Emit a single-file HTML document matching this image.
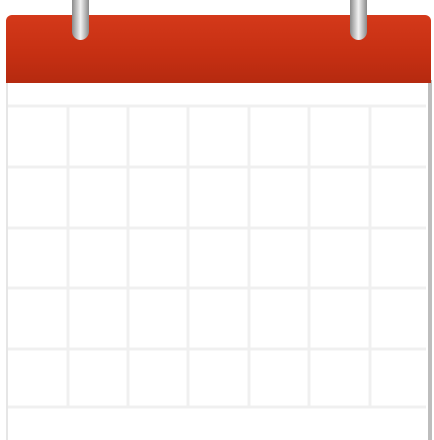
<!DOCTYPE html>
<html><head><meta charset="utf-8"><style>
html,body{margin:0;padding:0;width:434px;height:435px;background:#fff;overflow:hidden}
.abs{position:absolute}
</style></head><body>
<div class="abs" style="left:0;top:0;width:434px;height:435px">
 <div class="abs" style="left:6px;top:80px;width:420px;height:360px;background:#fff;border-left:2px solid #e6e6e6;border-right:4px solid #bdbdbd"></div>
 <div class="abs" style="left:6px;top:15px;width:425px;height:68px;border-radius:6px 6px 0 0;background:linear-gradient(#d4391a,#c52f12 60%,#b52a10)"></div>
 <svg class="abs" style="left:0;top:0" width="434" height="435">
  <g stroke="#f0f0f0" stroke-width="3" fill="none">
   <line x1="8" y1="106" x2="426" y2="106"/><line x1="8" y1="167" x2="426" y2="167"/>
   <line x1="8" y1="228" x2="426" y2="228"/><line x1="8" y1="288" x2="426" y2="288"/>
   <line x1="8" y1="349" x2="426" y2="349"/><line x1="8" y1="407" x2="426" y2="407"/>
   <line x1="68" y1="106" x2="68" y2="407"/><line x1="128" y1="106" x2="128" y2="407"/>
   <line x1="188" y1="106" x2="188" y2="407"/><line x1="249" y1="106" x2="249" y2="407"/>
   <line x1="309" y1="106" x2="309" y2="407"/><line x1="370" y1="106" x2="370" y2="407"/>
  </g>
 </svg>
 <div class="abs" style="left:72px;top:-10px;width:17px;height:50px;border-radius:0 0 9px 9px;background:linear-gradient(90deg,#8a8a8a,#f2f2f2 50%,#8a8a8a)"></div>
 <div class="abs" style="left:350px;top:-10px;width:17px;height:50px;border-radius:0 0 9px 9px;background:linear-gradient(90deg,#8a8a8a,#f2f2f2 50%,#8a8a8a)"></div>
</div>
</body></html>
